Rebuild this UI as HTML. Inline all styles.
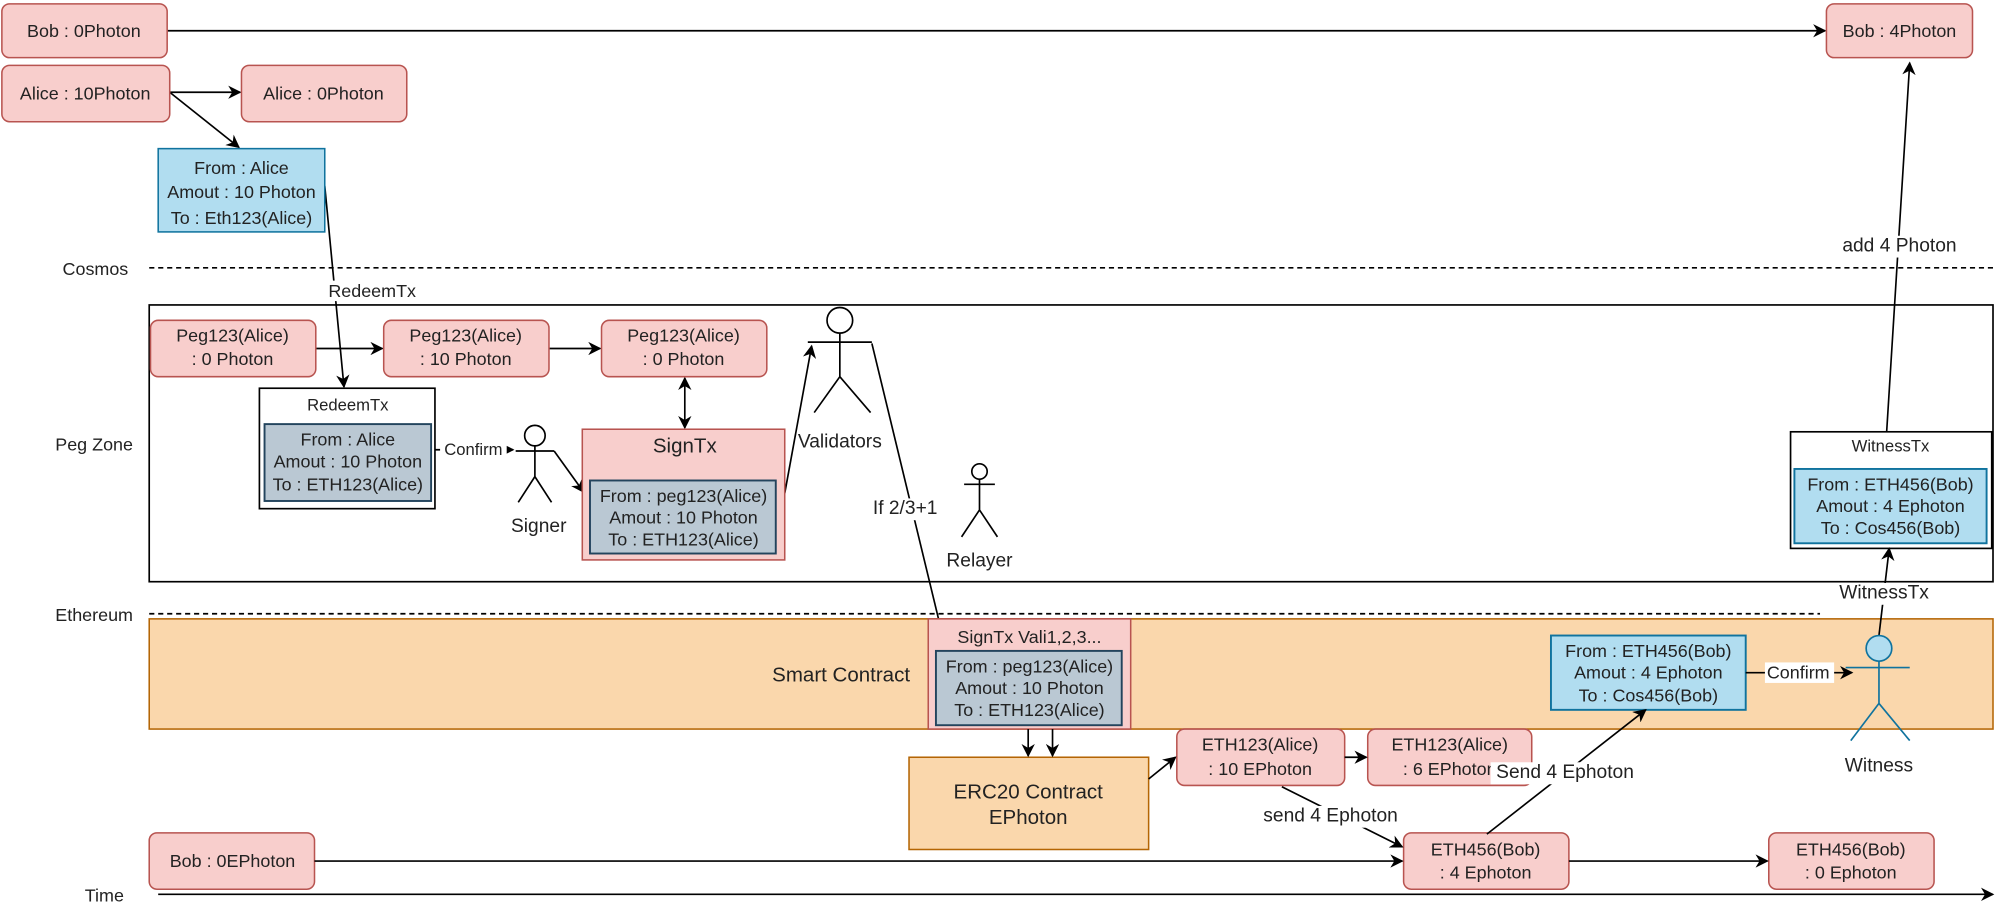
<!DOCTYPE html>
<html><head><meta charset="utf-8"><style>html,body{margin:0;padding:0;background:#fff}svg{display:block}text{font-family:"Liberation Sans",sans-serif;font-size:14px;fill:#222;text-anchor:middle;dominant-baseline:central}</style></head><body>
<svg width="2000" height="911" viewBox="0 0 1560 711" xmlns="http://www.w3.org/2000/svg">
<defs><marker id="a" viewBox="0 0 10 10" refX="9" refY="5" markerWidth="8" markerHeight="8" orient="auto-start-reverse"><path d="M0,0 L10,5 L0,10 L3,5 z" fill="#000"/></marker></defs>
<g stroke="#000" stroke-width="1.3" fill="none">
<line x1="130" y1="24" x2="1424" y2="24" marker-end="url(#a)"/>
<line x1="132" y1="72" x2="187" y2="72" marker-end="url(#a)"/>
<line x1="132" y1="72" x2="186" y2="115" marker-end="url(#a)"/>
<line x1="253" y1="145" x2="268" y2="302" marker-end="url(#a)"/>
<line x1="116" y1="209" x2="1555" y2="209" stroke-dasharray="4,3"/>
<rect x="116" y="238" width="1439" height="216"/>
<line x1="246" y1="272" x2="298" y2="272" marker-end="url(#a)"/>
<line x1="428" y1="272" x2="468" y2="272" marker-end="url(#a)"/>
<line x1="534" y1="295" x2="534" y2="334" marker-start="url(#a)" marker-end="url(#a)"/>
<line x1="339" y1="351" x2="400" y2="351" marker-end="url(#a)"/>
<line x1="432" y1="352" x2="455" y2="384" marker-end="url(#a)"/>
<line x1="612" y1="385" x2="633" y2="270" marker-end="url(#a)"/>
<line x1="680" y1="268" x2="732" y2="483"/>
<line x1="1472" y1="337" x2="1490" y2="49" marker-end="url(#a)"/>
<line x1="116" y1="479" x2="1420" y2="479" stroke-dasharray="4,3"/>
</g>
<!-- boxes -->
<g stroke="#b85450" fill="#f8cecc" stroke-width="1.2">
<rect x="1" y="3" width="129" height="42" rx="6"/>
<rect x="1425" y="3" width="114" height="42" rx="6"/>
<rect x="1" y="51" width="131" height="44" rx="6"/>
<rect x="188" y="51" width="129" height="44" rx="6"/>
<rect x="117" y="250" width="129" height="44" rx="6"/>
<rect x="299" y="250" width="129" height="44" rx="6"/>
<rect x="469" y="250" width="129" height="44" rx="6"/>
<rect x="454" y="335" width="158" height="102"/>
</g>
<rect x="123" y="116" width="130" height="65" fill="#b1ddf0" stroke="#10739e" stroke-width="1.2"/>
<rect x="202" y="303" width="137" height="94" fill="#fff" stroke="#000" stroke-width="1.3"/>
<rect x="206" y="331" width="130" height="60" fill="#bac8d3" stroke="#23445d" stroke-width="1.5"/>
<rect x="460" y="375" width="145" height="57" fill="#bac8d3" stroke="#23445d" stroke-width="1.5"/>
<rect x="1397" y="337" width="157" height="91" fill="#fff" stroke="#000" stroke-width="1.3"/>
<rect x="1400" y="366" width="150" height="58" fill="#b1ddf0" stroke="#10739e" stroke-width="1.5"/>
<rect x="116" y="483" width="1439" height="86" fill="#fad7ac" stroke="#b46504" stroke-width="1.2"/>
<rect x="724" y="483" width="158" height="86" fill="#f8cecc" stroke="#b85450" stroke-width="1.2"/>
<rect x="730" y="508" width="145" height="58" fill="#bac8d3" stroke="#23445d" stroke-width="1.5"/>
<rect x="1210" y="496" width="152" height="58" fill="#b1ddf0" stroke="#10739e" stroke-width="1.5"/>
<rect x="709" y="591" width="187" height="72" fill="#fad7ac" stroke="#b46504" stroke-width="1.2"/>
<g stroke="#b85450" fill="#f8cecc" stroke-width="1.2">
<rect x="918" y="569" width="131" height="44" rx="6"/>
<rect x="1067" y="569" width="128" height="44" rx="6"/>
<rect x="116" y="650" width="129" height="44" rx="6"/>
<rect x="1095" y="650" width="129" height="44" rx="6"/>
<rect x="1380" y="650" width="129" height="44" rx="6"/>
</g>
<g stroke="#000" stroke-width="1.3" fill="none">
<line x1="802" y1="569" x2="802" y2="590" marker-end="url(#a)"/>
<line x1="821" y1="569" x2="821" y2="590" marker-end="url(#a)"/>
<line x1="896" y1="608" x2="917" y2="591" marker-end="url(#a)"/>
<line x1="1049" y1="591" x2="1066" y2="591" marker-end="url(#a)"/>
<line x1="1000" y1="614" x2="1094" y2="661" marker-end="url(#a)"/>
<line x1="1160" y1="651" x2="1284" y2="554" marker-end="url(#a)"/>
<line x1="1362" y1="525" x2="1445" y2="525" marker-end="url(#a)"/>
<line x1="1466" y1="496" x2="1474" y2="428" marker-end="url(#a)"/>
<line x1="245" y1="672" x2="1094" y2="672" marker-end="url(#a)"/>
<line x1="1224" y1="672" x2="1379" y2="672" marker-end="url(#a)"/>
<line x1="123" y1="698" x2="1555" y2="698" marker-end="url(#a)"/>
<!-- signer -->
<circle cx="417" cy="340" r="8" fill="#fff"/><path d="M417,348 V372 M402,352 H432 M417,372 L404,392 M417,372 L430,392"/>
<!-- validators -->
<circle cx="655" cy="250" r="10" fill="#fff"/><path d="M655,260 V294 M630,267 H680 M655,294 L635,322 M655,294 L679,322"/>
<!-- relayer -->
<circle cx="764" cy="368" r="6" fill="#fff"/><path d="M764,374 V398 M752,378 H776 M764,398 L750,419 M764,398 L778,419"/>
</g>
<g stroke="#10739e" stroke-width="1.3" fill="none">
<circle cx="1466" cy="506" r="10" fill="#b1ddf0"/><path d="M1466,516 V549 M1440,521 H1490 M1466,549 L1444,578 M1466,549 L1490,578"/>
</g>
<!-- label backgrounds -->
<g fill="#fff">
<rect x="258" y="219" width="64" height="16"/>
<rect x="343" y="344" width="52" height="15"/>
<rect x="1428" y="184" width="104" height="17"/>
<rect x="676" y="389" width="60" height="17"/>
<rect x="1432" y="455" width="76" height="17"/>
<rect x="980" y="629" width="116" height="17"/>
<rect x="1163" y="595" width="116" height="17"/>
<rect x="1377" y="517" width="54" height="16"/>
</g>
<text x="65" y="24">Bob : 0Photon</text>
<text x="1482" y="24">Bob : 4Photon</text>
<text x="66" y="73">Alice : 10Photon</text>
<text x="252" y="73">Alice : 0Photon</text>
<text x="188" y="131">From : Alice</text>
<text x="188" y="150">Amout : 10 Photon</text>
<text x="188" y="170">To : Eth123(Alice)</text>
<text x="290" y="227">RedeemTx</text>
<text x="74" y="210">Cosmos</text>
<text x="73" y="347">Peg Zone</text>
<text x="73" y="480">Ethereum</text>
<text x="81" y="699">Time</text>
<text x="181" y="262">Peg123(Alice)</text><text x="181" y="280">: 0 Photon</text>
<text x="363" y="262">Peg123(Alice)</text><text x="363" y="280">: 10 Photon</text>
<text x="533" y="262">Peg123(Alice)</text><text x="533" y="280">: 0 Photon</text>
<text x="271" y="316" style="font-size:13px">RedeemTx</text>
<text x="271" y="343">From : Alice</text>
<text x="271" y="360">Amout : 10 Photon</text>
<text x="271" y="378">To : ETH123(Alice)</text>
<text x="369" y="351" style="font-size:13px">Confirm</text>
<text x="420" y="411" style="font-size:15px">Signer</text>
<text x="534" y="348" style="font-size:16px">SignTx</text>
<text x="533" y="387">From : peg123(Alice)</text>
<text x="533" y="404">Amout : 10 Photon</text>
<text x="533" y="421">To : ETH123(Alice)</text>
<text x="655" y="345" style="font-size:15px">Validators</text>
<text x="706" y="397" style="font-size:15px">If 2/3+1</text>
<text x="764" y="438" style="font-size:15px">Relayer</text>
<text x="1475" y="348" style="font-size:13px">WitnessTx</text>
<text x="1475" y="378">From : ETH456(Bob)</text>
<text x="1475" y="395">Amout : 4 Ephoton</text>
<text x="1475" y="412">To : Cos456(Bob)</text>
<text x="1482" y="192" style="font-size:15px">add 4 Photon</text>
<text x="1470" y="463" style="font-size:15px">WitnessTx</text>
<text x="656" y="527" style="font-size:16px">Smart Contract</text>
<text x="803" y="497">SignTx Vali1,2,3...</text>
<text x="803" y="520">From : peg123(Alice)</text>
<text x="803" y="537">Amout : 10 Photon</text>
<text x="803" y="554">To : ETH123(Alice)</text>
<text x="1286" y="508">From : ETH456(Bob)</text>
<text x="1286" y="525">Amout : 4 Ephoton</text>
<text x="1286" y="543">To : Cos456(Bob)</text>
<text x="1403" y="525">Confirm</text>
<text x="1466" y="598" style="font-size:15px">Witness</text>
<text x="802" y="618" style="font-size:16px">ERC20 Contract</text>
<text x="802" y="638" style="font-size:16px">EPhoton</text>
<text x="983" y="581">ETH123(Alice)</text><text x="983" y="600">: 10 EPhoton</text>
<text x="1131" y="581">ETH123(Alice)</text><text x="1131" y="600">: 6 EPhoton</text>
<rect x="1163" y="595" width="116" height="17" fill="#fff"/>
<text x="1221" y="603" style="font-size:15px">Send 4 Ephoton</text>
<text x="1038" y="637" style="font-size:15px">send 4 Ephoton</text>
<text x="181" y="672">Bob : 0EPhoton</text>
<text x="1159" y="663">ETH456(Bob)</text><text x="1159" y="681">: 4 Ephoton</text>
<text x="1444" y="663">ETH456(Bob)</text><text x="1444" y="681">: 0 Ephoton</text>
</svg>
</body></html>
